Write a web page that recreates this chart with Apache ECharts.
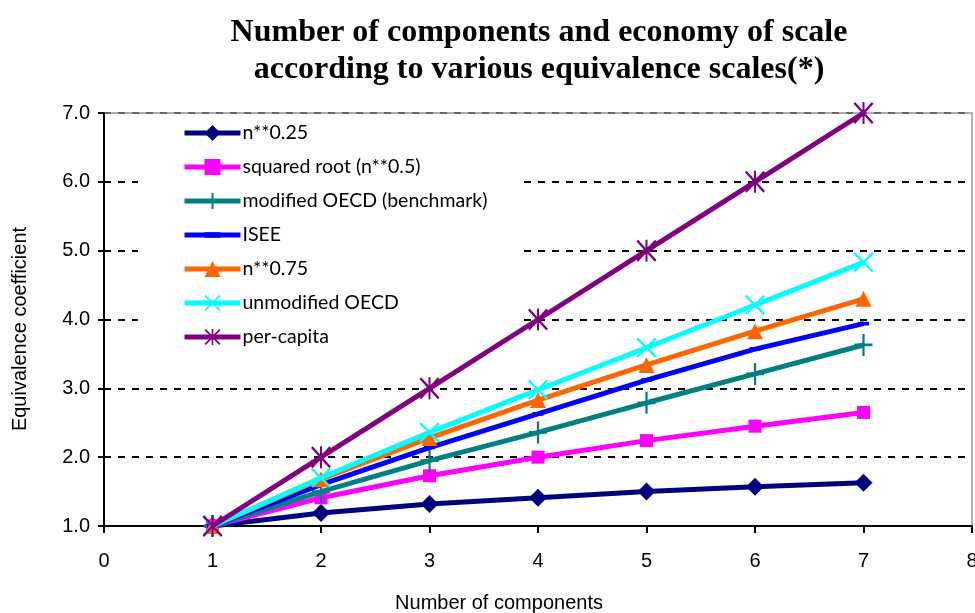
<!DOCTYPE html>
<html>
<head>
<meta charset="utf-8">
<script src="https://cdn.jsdelivr.net/npm/echarts@6/dist/echarts.min.js"></script>
<style>
  html, body { margin: 0; padding: 0; background: #fff; }
  #chart { width: 975px; height: 613px; }
</style>
</head>
<body>
<div id="chart"></div>
<script>
// Household size (number of components)
const components = [1, 2, 3, 4, 5, 6, 7];

// Equivalence coefficients for each scale
const nPow025      = [1.00, 1.19, 1.32, 1.41, 1.50, 1.57, 1.63];
const squaredRoot  = [1.00, 1.41, 1.73, 2.00, 2.24, 2.45, 2.65];
const modifiedOECD = [1.00, 1.50, 1.95, 2.36, 2.79, 3.21, 3.63];
const isee         = [1.00, 1.60, 2.14, 2.63, 3.12, 3.57, 3.94];
const nPow075      = [1.00, 1.68, 2.28, 2.83, 3.34, 3.83, 4.30];
const unmodifiedOECD = [1.00, 1.70, 2.36, 2.98, 3.59, 4.21, 4.83];
const perCapita    = [1, 2, 3, 4, 5, 6, 7];

const seriesNames = [
  'n**0.25',
  'squared root (n**0.5)',
  'modified OECD (benchmark)',
  'ISEE',
  'n**0.75',
  'unmodified OECD',
  'per-capita'
];

const xTicks = [0, 1, 2, 3, 4, 5, 6, 7, 8];
const yTicks = [1, 2, 3, 4, 5, 6, 7];

// Marker shapes
const plusPath = 'path://M8.75,0H11.25V8.75H20V11.25H11.25V20H8.75V11.25H0V8.75H8.75Z';
const crossPath = 'path://M0,1.6L1.6,0L20,18.4L18.4,20Z M18.4,0L20,1.6L1.6,20L0,18.4Z';
const starPath = 'path://M0,1.6L1.6,0L20,18.4L18.4,20Z M18.4,0L20,1.6L1.6,20L0,18.4Z M9,0L11,0L11,20L9,20Z';
// short horizontal bar inside a square box (tiny corner points keep the box square)
const dashPath = 'path://M0,0L0.01,0L0,0.01Z M12,12L11.99,12L12,11.99Z M0,4H12V8H0Z';

const styles = [
  { color: '#000080', symbol: 'diamond', size: 18 },
  { color: '#FF00FF', symbol: 'rect', size: 13 },
  { color: '#008080', symbol: plusPath, size: [18, 22] },
  { color: '#0000FF', symbol: dashPath, size: 11 },
  { color: '#FF6600', symbol: 'triangle', size: 16 },
  { color: '#00FFFF', symbol: crossPath, size: 20 },
  { color: '#800080', symbol: starPath, size: [20, 22] }
];

const values = [nPow025, squaredRoot, modifiedOECD, isee, nPow075, unmodifiedOECD, perCapita];

const series = values.map((vals, i) => ({
  name: seriesNames[i],
  type: 'line',
  data: components.map((c, j) => [c, vals[j]]),
  symbol: styles[i].symbol,
  symbolSize: styles[i].size,
  clip: false,
  color: styles[i].color,
  lineStyle: { color: styles[i].color, width: 5 },
  itemStyle: { color: styles[i].color, opacity: 1 },
  emphasis: { disabled: true },
  animation: false,
  z: 3 + i
}));

const chart = echarts.init(document.getElementById('chart'), null, { renderer: 'canvas' });

chart.setOption({
  backgroundColor: '#fff',
  animation: false,
  title: {
    text: 'Number of components and economy of scale\naccording to various equivalence scales(*)',
    left: 534,
    textAlign: 'center',
    top: 9,
    textStyle: {
      fontFamily: 'Liberation Serif',
      fontWeight: 'bold',
      fontSize: 32,
      lineHeight: 37,
      color: '#000'
    }
  },
  grid: {
    left: 104, right: 3, top: 113, bottom: 87,
    outerBoundsMode: 'none',
    containLabel: false,
    show: true,
    borderColor: '#b0b0b0',
    borderWidth: 2,
    backgroundColor: 'transparent'
  },
  legend: {
    orient: 'vertical',
    left: 138,
    top: 115,
    padding: [8, 33, 8, 44],
    backgroundColor: '#fff',
    itemWidth: 56,
    itemHeight: 20,
    itemGap: 14,
    data: seriesNames,
    lineStyle: { width: 5 },
    textStyle: { fontFamily: 'Lato', fontSize: 19.5, color: '#000', padding: [0, 0, 0, -3] }
  },
  xAxis: {
    type: 'value',
    min: 0, max: 8, interval: 1,
    axisLine: { show: true, onZero: false, lineStyle: { color: '#000', width: 2 } },
    axisTick: { show: true, length: 7, lineStyle: { color: '#000', width: 2 } },
    axisLabel: {
      margin: 25,
      fontFamily: 'Liberation Sans', fontSize: 20, color: '#000',
      formatter: v => xTicks.includes(v) ? String(v) : ''
    },
    splitLine: { show: false }
  },
  yAxis: {
    type: 'value',
    min: 1, max: 7, interval: 1,
    axisLine: { show: true, lineStyle: { color: '#000', width: 2 } },
    axisTick: { show: true, length: 6, lineStyle: { color: '#000', width: 2 } },
    axisLabel: {
      margin: 14,
      fontFamily: 'Liberation Sans', fontSize: 20, color: '#000',
      formatter: v => yTicks.includes(v) ? v.toFixed(1) : ''
    },
    splitLine: {
      show: true,
      showMinLine: false,
      lineStyle: {
        // 2.0 … 6.0 black, top edge (7.0) grey
        color: ['#000', '#000', '#000', '#000', '#000', '#666'],
        type: [7, 7],
        width: 2
      }
    }
  },
  graphic: [
    {
      type: 'text',
      x: 20, y: 329,
      rotation: Math.PI / 2,
      style: {
        text: 'Equivalence coefficient',
        fontFamily: 'Liberation Sans', fontSize: 20, fill: '#000',
        align: 'center', verticalAlign: 'middle'
      }
    },
    {
      type: 'text',
      x: 499, y: 603,
      style: {
        text: 'Number of components',
        fontFamily: 'Liberation Sans', fontSize: 20, fill: '#000',
        align: 'center', verticalAlign: 'middle'
      }
    }
  ],
  series: series
});
</script>
</body>
</html>
